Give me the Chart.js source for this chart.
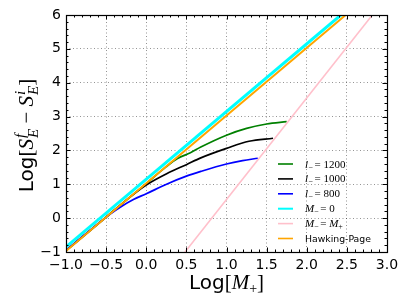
<!DOCTYPE html>
<html><head><meta charset="utf-8">
<script src="https://cdn.jsdelivr.net/npm/chart.js@4/dist/chart.umd.min.js"></script>
<style>html,body{margin:0;padding:0;background:#fff}#wrap{width:407px;height:305px}</style>
</head><body><div id="wrap"><canvas id="c" width="407" height="305"></canvas></div>
<script>
// ---- data ----
const xL1200 = [-1.0, -0.5, 0.0, 0.25, 0.39, 0.55, 0.68, 1.0, 1.25, 1.5, 1.75];
const yL1200 = [-0.96, 0.03, 1.02, 1.52, 1.76, 1.93, 2.10, 2.45, 2.65, 2.78, 2.85];
const xL1000 = [-1.0, -0.5, -0.2, 0.0, 0.26, 0.5, 0.68, 1.0, 1.28, 1.58];
const yL1000 = [-0.96, 0.03, 0.63, 0.98, 1.32, 1.58, 1.78, 2.06, 2.27, 2.36];
const xL800 = [-1.0, -0.8, -0.6, -0.45, -0.32, -0.16, 0.0, 0.26, 0.5, 0.68, 1.0, 1.2, 1.39];
const yL800 = [-0.95, -0.55, -0.16, 0.12, 0.33, 0.55, 0.72, 1.01, 1.24, 1.38, 1.60, 1.70, 1.77];
const xM0 = [-1.0, 2.425];
const yM0 = [-0.85, 6.0];
const xMeq = [0.483, 2.817];
const yMeq = [-1.0, 6.0];
const xHP = [-1.0, 2.485];
const yHP = [-0.97, 6.0];
const seriesLabels = ['l_\u2212 = 1200', 'l_\u2212 = 1000', 'l_\u2212 = 800', 'M_\u2212 = 0', 'M_\u2212 = M_+', 'Hawking-Page'];
const xTicksMajor = [-1.0, -0.5, 0.0, 0.5, 1.0, 1.5, 2.0, 2.5, 3.0];
const yTicksMajor = [-1, 0, 1, 2, 3, 4, 5, 6];
const xTitle = 'Log[M_+]';
const yTitle = 'Log[S_E^f \u2212 S_E^i]';

const colors = ['#008000', '#000000', '#0000ff', '#00ffff', '#ffc0cb', '#ffa500'];
const widths = [1.7, 1.7, 1.7, 3, 1.6, 2];
const xs = [xL1200, xL1000, xL800, xM0, xMeq, xHP];
const ys = [yL1200, yL1000, yL800, yM0, yMeq, yHP];

const datasets = xs.map((xa, i) => ({
  label: seriesLabels[i],
  data: xa.map((x, j) => ({x: x, y: ys[i][j]})),
  showLine: true, pointRadius: 0, borderColor: colors[i], backgroundColor: colors[i],
  borderWidth: widths[i], fill: false, tension: 0.35, cubicInterpolationMode: 'monotone',
  order: 5 - i
}));

const SANS = 'DejaVu Sans';
const SERIF = 'Liberation Serif';
const minus = v => (v < 0 ? '\u2212' : '') + Math.abs(v);

function measureRuns(ctx, runs) {
  let w = 0;
  for (const r of runs) {
    if (r.stack) { let m = 0; for (const s of r.stack) { ctx.font = s.f; m = Math.max(m, ctx.measureText(s.t).width); } w += m + (r.pad || 0); }
    else { ctx.font = r.f; w += ctx.measureText(r.t).width + (r.pad || 0); }
  }
  return w;
}
function drawRuns(ctx, runs, x, y) {
  ctx.textBaseline = 'alphabetic'; ctx.textAlign = 'left';
  for (const r of runs) {
    if (r.stack) {
      let m = 0;
      for (const s of r.stack) { ctx.font = s.f; ctx.fillText(s.t, x, y + s.dy); m = Math.max(m, ctx.measureText(s.t).width); }
      x += m + (r.pad || 0);
    } else {
      ctx.font = r.f; ctx.fillText(r.t, x, y + (r.dy || 0)); x += ctx.measureText(r.t).width + (r.pad || 0);
    }
  }
}

const decor = {
  id: 'decor',
  afterDraw(chart) {
    const ctx = chart.ctx, a = chart.chartArea, sx = chart.scales.x, sy = chart.scales.y;
    ctx.save();
    ctx.strokeStyle = '#000'; ctx.lineWidth = 1;
    ctx.beginPath();
    for (let i = -10; i <= 30; i++) {
      const v = i / 10, px = Math.round(sx.getPixelForValue(v)) + 0.5;
      const L = (i % 5 === 0) ? 4.5 : 2.5;
      ctx.moveTo(px, a.bottom); ctx.lineTo(px, a.bottom - L);
      ctx.moveTo(px, a.top); ctx.lineTo(px, a.top + L);
    }
    for (let i = -5; i <= 30; i++) {
      const v = i / 5, py = Math.round(sy.getPixelForValue(v)) + 0.5;
      const L = (i % 5 === 0) ? 4.5 : 2.5;
      ctx.moveTo(a.left, py); ctx.lineTo(a.left + L, py);
      ctx.moveTo(a.right, py); ctx.lineTo(a.right - L, py);
    }
    ctx.stroke();
    ctx.lineWidth = 1.2;
    ctx.strokeRect(Math.round(a.left) + 0.5, Math.round(a.top) + 0.5, Math.round(a.right - a.left), Math.round(a.bottom - a.top));

    ctx.fillStyle = '#000';
    const xr = [
      {t: 'Log', f: '20px ' + SANS},
      {t: '[', f: '21px ' + SERIF},
      {t: 'M', f: 'italic 21px ' + SERIF, pad: 0},
      {t: '+', f: '14px ' + SERIF, dy: 4},
      {t: ']', f: '21px ' + SERIF}
    ];
    const xw = measureRuns(ctx, xr);
    drawRuns(ctx, xr, (a.left + a.right) / 2 - xw / 2, 289);
    const yr = [
      {t: 'Log', f: '20px ' + SANS},
      {t: '[', f: '21px ' + SERIF},
      {t: 'S', f: 'italic 21px ' + SERIF, pad: 1},
      {stack: [{t: 'f', f: 'italic 15px ' + SERIF, dy: -8}, {t: 'E', f: 'italic 15px ' + SERIF, dy: 5}]},
      {t: ' \u2212 ', f: '21px ' + SERIF},
      {t: 'S', f: 'italic 21px ' + SERIF, pad: 1},
      {stack: [{t: 'i', f: 'italic 15px ' + SERIF, dy: -8}, {t: 'E', f: 'italic 15px ' + SERIF, dy: 5}]},
      {t: ']', f: '21px ' + SERIF}
    ];
    const yw = measureRuns(ctx, yr);
    ctx.save();
    ctx.translate(33, (a.top + a.bottom) / 2 + 2);
    ctx.rotate(-Math.PI / 2);
    drawRuns(ctx, yr, -yw / 2, 0);
    ctx.restore();

    const ly0 = 164, dly = 14.9;
    const IT = 'italic 11px ' + SERIF, UP = '11px ' + SERIF, SUB = '8px ' + SERIF;
    const legendRuns = [
      [{t: 'l', f: IT, pad: 0.5}, {t: '\u2212', f: SUB, dy: 2, pad: 1.5}, {t: '= 1200', f: UP}],
      [{t: 'l', f: IT, pad: 0.5}, {t: '\u2212', f: SUB, dy: 2, pad: 1.5}, {t: '= 1000', f: UP}],
      [{t: 'l', f: IT, pad: 0.5}, {t: '\u2212', f: SUB, dy: 2, pad: 1.5}, {t: '= 800', f: UP}],
      [{t: 'M', f: IT}, {t: '\u2212', f: SUB, dy: 2, pad: 1.5}, {t: '= 0', f: UP}],
      [{t: 'M', f: IT}, {t: '\u2212', f: SUB, dy: 2, pad: 1.5}, {t: '= ', f: UP}, {t: 'M', f: IT}, {t: '+', f: SUB, dy: 2}],
      [{t: seriesLabels[5], f: '9.3px ' + SANS}]
    ];
    for (let i = 0; i < 6; i++) {
      const y = ly0 + i * dly;
      ctx.strokeStyle = colors[i]; ctx.lineWidth = widths[i] > 2 ? 2 : 1.6;
      ctx.beginPath(); ctx.moveTo(278, y); ctx.lineTo(293, y); ctx.stroke();
      ctx.fillStyle = '#000';
      drawRuns(ctx, legendRuns[i], 305, y + 3.5);
    }
    ctx.restore();
  }
};

new Chart(document.getElementById('c'), {
  type: 'scatter',
  data: {datasets: datasets},
  options: {
    responsive: false, animation: false, devicePixelRatio: 1,
    layout: {padding: {left: 0, right: 20, top: 15, bottom: 0}},
    plugins: {legend: {display: false}, tooltip: {enabled: false}},
    scales: {
      x: {
        type: 'linear', min: -1, max: 3,
        afterFit: s => { s.height = 53; },
        afterBuildTicks: s => { s.ticks = xTicksMajor.map(v => ({value: v})); },
        ticks: {padding: 5, color: '#000', font: {family: SANS, size: 14}, maxRotation: 0,
          callback: v => (v < 0 ? '\u2212' : '') + Math.abs(v).toFixed(1)},
        grid: {color: 'rgba(0,0,0,0.42)', lineWidth: 1, drawTicks: false, borderDash: [1, 2.5]},
        border: {display: false, dash: [1, 2.5]}
      },
      y: {
        type: 'linear', min: -1, max: 6,
        afterFit: s => { s.width = 66; },
        afterBuildTicks: s => { s.ticks = yTicksMajor.map(v => ({value: v})); },
        ticks: {padding: 5, color: '#000', font: {family: SANS, size: 14},
          callback: v => minus(v)},
        grid: {color: 'rgba(0,0,0,0.42)', lineWidth: 1, drawTicks: false, borderDash: [1, 2.5]},
        border: {display: false, dash: [1, 2.5]}
      }
    }
  },
  plugins: [decor]
});
</script>
</body></html>
